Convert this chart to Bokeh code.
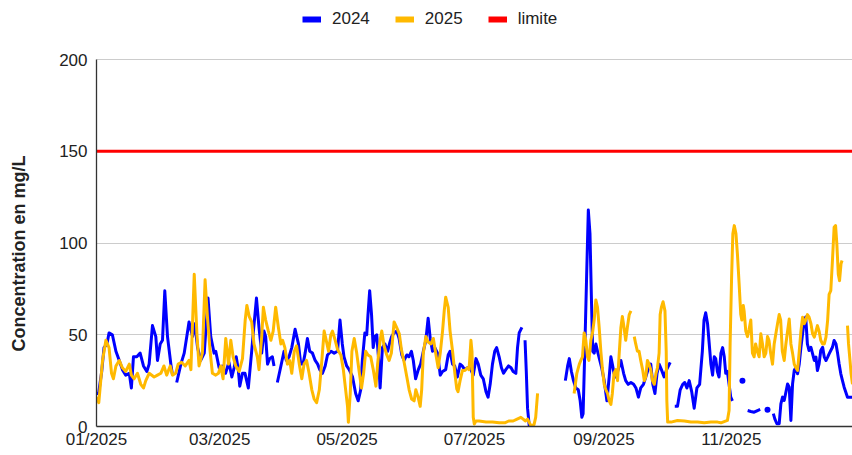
import numpy as np
from bokeh.plotting import figure
from bokeh.models import FixedTicker, Legend, LegendItem, Range1d
from bokeh.embed import file_html
from bokeh.resources import INLINE

# ---- data (day = days since 01/01/2025, None = no measurement / gap) ----
days_2024 = [
    0, 1, 2.5, 3.6, 5, 6, 7.6, 9.3, 10.9, 12.4,
    14, 15.7, 16.7, 17.7, 19.3, 20.9, 22.5, 24.1, 25.2, 26.8,
    28.4, 29.2, 30.5, 31.6, 32.7, 34, 35.6, 36.4, None, 38.4,
    40.4, 42, 43.5, 44.3, 46, 47.1, 48.4, 49.9, 51.6, 53.4,
    54.7, 56.3, 57.1, 58.7, 60.2, 61.8, 63.4, 64.8, 65.9, 66.9,
    67.9, 68.6, 69.9, 71.1, 72.7, 74.3, 75.3, 76.6, 77.8, 79.1,
    80.2, 81, 81.9, 82.9, 84.2, 85, None, 86.6, 88.3, 89.8,
    90.9, 92.2, 93.5, 95.1, 96.7, 97.8, 98.9, 99.9, 101, 102.1,
    103.4, 104.7, 105.9, 106.9, 108.2, 109.5, 110.6, 112.3, 113.8, 115.4,
    116.6, 117.7, 118.5, 119.8, 121, 122.6, 124.1, 125.3, 126.5, 127.3,
    128.5, 129.4, 130, 130.8, 131.7, 132.5, 133.3, 134.2, 135, 135.8,
    136.9, 138.1, 139.4, 140.5, 141.3, 142.5, 143.8, 144.9, 146.2, 147.3,
    148.6, 149.6, 150.8, 151.7, 152.8, 154.1, 155.2, 156.5, 157.7, 158.8,
    159.8, 160.9, 162, 163.3, 164.6, 165.7, 167.2, 168.4, 169.3, 170.5,
    171.5, 172.8, 174.1, 175.1, 176.3, 177.6, 178.9, 180.4, 181.7, 182.8,
    184, 185.2, 186.5, 187.5, 188.5, 189.6, 190.7, 191.6, 192.8, 193.9,
    194.9, 196, 197.3, 198.5, 199.5, 200.8, 201.6, 202.4, 203.7, None,
    205.2, 205.8, 206.4, 207.2, 208.8, None, 224.5, 225.6, 226.4, 227.4,
    228.4, 229.5, 230.7, 231.6, 232.4, 233, 233.8, 234.8, 235.5, 236.3,
    237, 237.6, 238.3, 239.1, 239.9, 241, 241.9, 243.1, 244.4, 245.5,
    246.3, 247, 247.8, 248.7, 249.8, 251.1, 252.4, 253.4, 254.6, 255.9,
    257.2, 258.3, 259.5, 260.6, 261.9, 263, 264.1, 265.4, 266.4, 267.4,
    268.4, 269.4, 270.5, 271.8, 273, 274.7, None, 276.9, 278.2, 279.5,
    280.7, 281.7, 282.7, 283.8, 285, 286.2, 287.5, 288.8, 290.1, 290.9,
    291.7, 292.6, 293.4, 294.2, 295, 295.8, 296.5, 297.3, 298.1, 299,
    299.8, 300.6, 301.3, 302.1, 302.9, 303.7, 304.5, None, 309.3, None,
    311.8, 313.3, 314.9, 316.5, 317.8, None, 321.3, None, 324.1, 324.8,
    325.8, 326.9, 327.7, 328.5, 329.3, 330.1, 330.9, 331.7, 332.5, 333.3,
    334.1, 334.9, 335.7, 336.5, 337.3, 338.1, 338.9, 339.6, 340.4, 341.2,
    342.1, 342.9, 343.7, 344.5, 345.2, 346, 346.8, 347.7, 348.5, 349.3,
    350.1, 350.8, 351.6, 352.4, 353.2, 354.1, 354.9, 355.6, 356.4, 357.2,
    358, 358.8, 359.6, 362.1,
]
conc_2024 = [
    18, 18, 30, 43, 45, 51, 50, 41, 36, 31,
    28, 29, 21, 38, 38, 40, 33, 30, 34, 55,
    49, 36, 45, 47, 74, 49, 34, 28, None, 24,
    34, 40, 51, 57, 49, 56, 43, 36, 40, 70,
    49, 40, 41, 32, 33, 29, 35, 27, 32, 38,
    31, 22, 29, 29, 21, 41, 54, 70, 54, 40,
    52, 49, 34, 37, 38, 33, None, 24, 33, 41,
    36, 38, 43, 53, 45, 34, 34, 40, 48, 41,
    40, 36, 34, 31, 29, 33, 39, 41, 40, 41,
    58, 45, 38, 33, 31, 27, 18, 14, 20, 36,
    51, 50, 61, 74, 61, 43, 49, 50, 38, 21,
    43, 45, 41, 46, 49, 51, 52, 48, 39, 36,
    39, 38, 41, 36, 26, 31, 34, 41, 47, 59,
    48, 41, 43, 40, 28, 30, 31, 39, 41, 34,
    33, 27, 34, 33, 31, 32, 32, 28, 37, 34,
    28, 26, 19, 16, 23, 34, 41, 43, 38, 32,
    29, 31, 33, 32, 30, 29, 43, 51, 54, None,
    47, 30, 10, 0.5, 0.5, None, 25, 33, 37, 30,
    25, 21, 20, 14, 5, 7, 41, 87, 118, 105,
    69, 41, 40, 45, 41, 36, 32, 25, 14, 27,
    38, 34, 29, 27, 31, 36, 29, 25, 23, 24,
    23, 21, 16, 21, 23, 27, 31, 34, 23, 18,
    29, 34, 31, 27, 31, 35, None, 11, 11, 20,
    23, 24, 21, 25, 19, 10, 21, 23, 41, 58,
    62, 56, 45, 34, 28, 38, 37, 30, 27, 40,
    43, 38, 29, 30, 23, 16, 14, None, 25, None,
    8.7, 8.2, 7.8, 8.7, 9.3, None, 9.1, None, 7, 4.2,
    1.5, 1.5, 12.3, 16, 14.2, 18.7, 23.2, 21.4, 3.3, 23.2,
    30.5, 32.3, 28.7, 34.1, 43.2, 50.5, 57.8, 59.6, 45, 41.4,
    43.2, 39.6, 36, 37.8, 30.5, 34.1, 41.4, 43.2, 37.8, 36,
    37.8, 39.6, 41.4, 43.2, 46.9, 45, 39.6, 34.1, 28.7, 25,
    21.4, 18.7, 16, 16,
]

days_2025 = [
    0, 1.1, 2.9, 4.5, 6, 7.2, 8.1, 9.3, 10.9, 12.4,
    14, 15.7, 16.7, 18, 19.6, 21.2, 22.5, 23.6, 25.2, 27.6,
    29.2, 30.8, 32.3, 33.6, 35.3, 36.4, 37.9, 39.1, 40.7, 42.5,
    44.3, 45.2, 46.8, 48.1, 49.1, 50.7, 52, 53.1, 54.4, 55.5,
    57.1, 58.4, 59.5, 60.6, 61.9, 63.2, 64.3, 65.4, 66.7, 68.3,
    69.9, 71.2, 72, 73.1, 74.3, 75.4, 77, 77.8, 79.1, 79.9,
    81, 82.3, 83.5, 84.6, 85.8, 87.1, 88.3, 89.1, 90.2, 91.4,
    92.5, 93.5, 94.7, 95.8, 97.1, 98.3, 99.4, 100.6, 101.8, 103.1,
    104.2, 105.4, 106.7, 107.9, 109, 109.8, 111.1, 112.2, 113, 114.3,
    115.4, 117, 118.2, 119.3, 120.2, 120.6, 121.5, 122.3, 123.4, 124.6,
    125.7, 126.9, 127.9, 128.9, 130, 131.3, 132.6, 133.8, 134.6, 135.8,
    136.6, 137.7, 139, 140.1, 141.2, 142.5, 143.7, 145, 146, 147.3,
    148.6, 149.7, 150.9, 152.1, 152.9, 154, 155, 155.7, 156.5, 157.7,
    158.8, 160.1, 161.3, 162.4, 163.6, 164.6, 165.7, 166.5, 167.2, 168.4,
    169.3, 170.5, 171.6, 172.5, 173.1, 174.1, 175.2, 176.4, 177.6, 178.4,
    179.3, 179.8, 180.4, 180.9, 181.7, 183.2, 186.5, 189.6, 192.8, 195.5,
    197.4, 199.5, 201.4, 203.2, 204.3, 205.3, 206.4, 208, 209.5, 210.3,
    211.2, None, 228.7, 230, 231.2, 231.9, 232.7, 233.5, 234.3, 235.1,
    235.8, 236.7, 237.5, 238.3, 239.1, 239.9, 240.7, 241.5, 242.2, 243.1,
    243.9, 244.7, 245.5, 246.3, 247, 247.8, 248.7, 249.5, 250.3, 251.1,
    251.8, 252.6, 253.4, 254.2, 255.1, 255.9, None, 257.5, 258.2, 259,
    259.8, 260.6, 261.5, 262.3, 263, 263.8, 264.6, 265.4, 266.2, 267.1,
    267.9, 268.6, 269.4, 269.9, 270.5, 271.3, 272.2, 272.8, 273.1, 273.5,
    275.1, 278.2, 281.5, 284.6, 287.8, 291, 294.2, 297.4, 299, 302.1,
    302.9, 303.4, 304.1, 304.7, 305.4, 306.2, 306.9, 307.7, 308.5, 309,
    309.7, 310.1, 310.9, 311.7, 312.5, 313.3, 314.1, 314.9, 315.6, 316.4,
    317.3, 318.1, 318.9, 319.7, 320.5, 321.3, 322, 322.8, 323.7, 324.5,
    325.3, 326.1, 326.9, 327.6, 328.4, 329.3, 330.1, 330.9, 331.7, 332.5,
    333.3, 334.1, 334.9, 335.7, 336.5, 337.3, 338.1, 338.9, 339.6, 340.4,
    341.2, 342.1, 342.9, 343.7, 344.5, 345.2, 346, 346.8, 347.7, 348.5,
    349.3, 350.1, 350.8, 351.6, 352.4, 353.2, 353.9, 354.5, 355.2, 355.8,
    356.5, 357, None, 359.6, 360.1, 360.8, 361.3, 362,
]
conc_2025 = [
    16, 13, 36, 47, 43, 29, 26, 33, 36, 32,
    30, 34, 28, 26, 29, 23, 21, 25, 29, 27,
    28, 29, 33, 28, 33, 28, 29, 34, 35, 33,
    36, 31, 83, 50, 33, 40, 80, 60, 41, 29,
    28, 29, 33, 26, 48, 34, 47, 38, 33, 30,
    37, 58, 66, 60, 57, 45, 38, 31, 49, 65,
    58, 52, 47, 52, 65, 54, 45, 47, 43, 34,
    36, 29, 41, 44, 34, 26, 34, 36, 29, 20,
    15, 13, 20, 36, 52, 48, 41, 50, 52, 47,
    42, 39, 31, 20, 11, 2.3, 18, 41, 48, 40,
    30.5, 21, 29, 41, 39, 38, 30.5, 22, 34, 47,
    52, 44, 39, 36, 40, 57, 54, 50.5, 42, 35,
    27, 20, 15, 14, 20, 16, 11, 20, 40, 49,
    46, 45, 48, 40, 32, 40, 52, 63, 70.5, 65,
    52, 41, 29, 20.5, 19, 25, 30.5, 30.5, 32, 31,
    47, 41, 5, 1.4, 3, 3, 2.5, 2.5, 2, 2,
    3, 3, 4, 5, 4, 3, 4, 0.5, 1, 5,
    18, None, 18, 29, 34, 36, 38, 51, 47, 38,
    36, 47, 51, 58, 69, 65, 54, 41, 32, 23,
    20, 18, 14, 12, 18, 29, 31, 25, 40, 54,
    60, 54, 47, 54, 61, 63, None, 49, 45, 41,
    41, 36, 31, 25, 27, 36, 34, 31, 25, 23,
    29, 32, 40, 61, 65, 68, 63, 41, 14, 2.4,
    2.4, 3.3, 3, 2.4, 2.4, 2, 2.4, 2.4, 2, 3.3,
    8.7, 45, 81, 105, 109.5, 105, 94, 78, 61, 58,
    66, 63, 52, 49, 53, 58, 40, 38, 45, 41,
    38, 50.5, 45, 38, 40, 49, 47, 40, 34, 45,
    50.5, 56, 61, 58, 41, 36, 45, 52, 58.6, 45,
    40, 34, 32, 30.5, 41, 52, 59.6, 56, 58, 61,
    59.6, 56, 50.5, 48.7, 52, 55, 52, 47, 45, 45,
    48.7, 58, 72, 74, 90.5, 108.6, 109.5, 99.5, 83, 79.5,
    88.7, 90.5, None, 55, 45, 36, 29, 23,
]

limit_days = [0, 364]
limit_value = [150, 150]

tick_days = [0, 59, 120, 181, 243, 304]
tick_labels = ["01/2025", "03/2025", "05/2025", "07/2025", "09/2025", "11/2025"]
y_ticks = [0, 50, 100, 150, 200]
y_title = "Concentration en mg/L"

color_2024 = "#0000ff"
color_2025 = "#ffb900"
color_limit = "#ff0000"
FONT = "Liberation Sans"

assert len(days_2024) == len(conc_2024)
assert len(days_2025) == len(conc_2025)


def to_arr(a):
    return np.array([np.nan if v is None else v for v in a], dtype=float)


def isolated(days, vals):
    xs, ys = [], []
    n = len(vals)
    for i in range(n):
        if vals[i] is None:
            continue
        prev_gap = i == 0 or vals[i - 1] is None
        next_gap = i == n - 1 or vals[i + 1] is None
        if prev_gap and next_gap:
            xs.append(days[i])
            ys.append(vals[i])
    return xs, ys


# The frame reaches the top of the canvas (room for the legend inside it);
# the y axis itself is bounded to 0..200 as in the original.
p = figure(width=852, height=455, output_backend="svg", toolbar_location=None,
           title=None,
           x_range=Range1d(0, 362), y_range=Range1d(0, 232.2),
           min_border_left=96, min_border_right=0, min_border_top=0,
           min_border_bottom=29)
p.outline_line_color = None
p.background_fill_color = "white"
p.border_fill_color = "white"

p.xgrid.grid_line_color = None
p.ygrid.ticker = FixedTicker(ticks=y_ticks)
p.ygrid.grid_line_color = "#cccccc"
p.ygrid.grid_line_width = 1

p.yaxis.ticker = FixedTicker(ticks=y_ticks)
p.yaxis.bounds = (y_ticks[0], y_ticks[-1])
p.xaxis.ticker = FixedTicker(ticks=tick_days)
p.xaxis.major_label_overrides = {d: l for d, l in zip(tick_days, tick_labels)}

for ax in (p.xaxis, p.yaxis):
    ax.axis_line_color = "#333333"
    ax.axis_line_width = 1.3
    ax.major_tick_line_color = None
    ax.minor_tick_line_color = None
    ax.major_tick_out = 0
    ax.major_tick_in = 0
    ax.major_label_text_font = FONT
    ax.major_label_text_font_size = "17px"
    ax.major_label_text_color = "#222222"

p.yaxis.major_label_standoff = 9
p.xaxis.major_label_standoff = 3
# trailing no-break spaces centre the visible title on the 0..200 axis
p.yaxis.axis_label = y_title + "\u00a0" * 16
p.yaxis.axis_label_text_font = FONT
p.yaxis.axis_label_text_font_size = "18px"
p.yaxis.axis_label_text_font_style = "bold"
p.yaxis.axis_label_text_color = "#222222"
p.yaxis.axis_label_standoff = 27

x24, y24 = to_arr(days_2024), to_arr(conc_2024)
x25, y25 = to_arr(days_2025), to_arr(conc_2025)

p.line(x24, y24, line_color=color_2024, line_width=3, line_join="round")
ix, iy = isolated(days_2024, conc_2024)
p.scatter(ix, iy, size=6, fill_color=color_2024, line_color=None)

p.line(x25, y25, line_color=color_2025, line_width=3, line_join="round")
ix, iy = isolated(days_2025, conc_2025)
p.scatter(ix, iy, size=6, fill_color=color_2025, line_color=None)

p.line(limit_days, limit_value, line_color=color_limit, line_width=3)

# legend proxies: thick bars as in the original legend (nothing drawn on the plot)
leg24 = p.line([np.nan], [np.nan], line_color=color_2024, line_width=6)
leg25 = p.line([np.nan], [np.nan], line_color=color_2025, line_width=6)
legl = p.line([np.nan], [np.nan], line_color=color_limit, line_width=6)

legend = Legend(items=[LegendItem(label="2024", renderers=[leg24]),
                       LegendItem(label="2025", renderers=[leg25]),
                       LegendItem(label="limite", renderers=[legl])],
                orientation="horizontal", location=(206, 397),
                glyph_width=19, glyph_height=20, label_standoff=11, spacing=25,
                padding=0, margin=0, border_line_color=None,
                background_fill_alpha=0,
                label_text_font=FONT, label_text_font_size="17px",
                label_text_color="#222222")
p.add_layout(legend, "center")

open("out.html", "w").write(file_html(p, INLINE))
